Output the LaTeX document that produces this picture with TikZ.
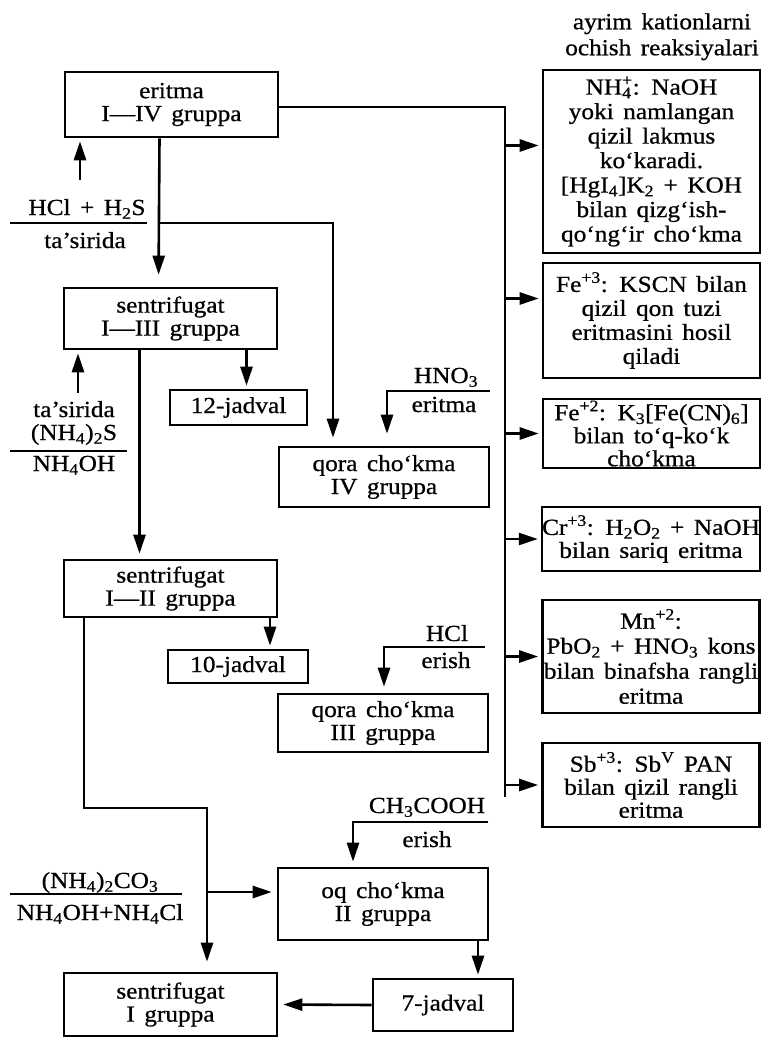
\documentclass[tikz,border=0pt]{standalone}
\usepackage{fontspec}
\setmainfont{Liberation Serif}[FakeStretch=1.1, WordSpace=1.5, FakeBold=0.7]
\usetikzlibrary{arrows.meta,positioning}

\newcommand{\ionpm}[2]{\rlap{\textsubscript{#1}}\textsuperscript{#2}}

\begin{document}
\begin{tikzpicture}[
        x=1pt, y=-1pt,
        >={Triangle[length=19pt,width=12pt]},
        line width=2.6pt,
        every node/.style={font=\fontsize{23}{23}\selectfont, align=center, inner sep=0pt},
        stage/.style={draw, line width=2.6pt},
        main/.style={stage, minimum width=213pt},
        qora/.style={stage, minimum width=210pt},
        jadval/.style={stage, minimum width=140pt},
        reaction/.style={stage, minimum width=217pt},
        flow/.style={->, shorten >=3pt}
    ]
        \fill[white] (0,0) rectangle (766,1038);
        \useasboundingbox (0,0) rectangle (766,1038);

        % left column
        \node[main, minimum height=65pt] (b1) at (171.5,104.5) {eritma\\I—IV gruppa};
        \node[main, minimum height=61pt] (b2) at (170.5,318.5) {sentrifugat\\I—III gruppa};
        \node[jadval, minimum width=137pt, minimum height=35pt] (j12) at (238.5,407.5) {12-jadval};
        \node[qora, minimum height=60pt] (q4) at (384,477) {qora cho‘kma\\IV gruppa};
        \node[main, minimum height=57pt] (b3) at (170.5,588.5) {sentrifugat\\I—II gruppa};
        \node[jadval, minimum height=33pt] (j10) at (238,666.5) {10-jadval};
        \node[qora, minimum height=58pt] (q3) at (383,723) {qora cho‘kma\\III gruppa};
        \node[qora, minimum height=72pt] (oq) at (383,904) {oq cho‘kma\\II gruppa};
        \node[jadval, minimum height=52pt] (j7) at (443,1005) {7-jadval};
        \node[main, minimum height=63pt] (b4) at (170.5,1004.5) {sentrifugat\\I gruppa};

        % right column
        \node[anchor=north, font=\fontsize{23}{26}\selectfont] (ttl) at (662,12) {ayrim kationlarni\\ochish reaksiyalari};
        \node[reaction, minimum height=183pt, font=\fontsize{23}{24.5}\selectfont] (r1) at (651.5,161.5) {NH\ionpm{4}{+}: NaOH\\yoki namlangan\\qizil lakmus\\ko‘karadi.\\{[}HgI\textsubscript{4}{]}K\textsubscript{2} + KOH\\bilan qizg‘ish-\\qo‘ng‘ir cho‘kma};
        \node[reaction, minimum height=115pt, font=\fontsize{23}{24}\selectfont] (r2) at (651.5,320.5) {Fe\textsuperscript{+3}: KSCN bilan\\qizil qon tuzi\\eritmasini hosil\\qiladi};
        \node[reaction, minimum height=69pt] (r3) at (651.5,433.5) {Fe\textsuperscript{+2}: K\textsubscript{3}[Fe(CN)\textsubscript{6}]\\bilan to‘q-ko‘k\\cho‘kma};
        \node[reaction, minimum height=64pt] (r4) at (651,539) {Cr\textsuperscript{+3}: H\textsubscript{2}O\textsubscript{2} + NaOH\\bilan sariq eritma};
        \node[reaction, minimum height=113pt, font=\fontsize{23}{25}\selectfont] (r5) at (651,656.5) {Mn\textsuperscript{+2}:\\PbO\textsubscript{2} + HNO\textsubscript{3} kons\\bilan binafsha rangli\\eritma};
        \node[reaction, minimum height=84pt] (r6) at (651,785) {Sb\textsuperscript{+3}: Sb\textsuperscript{V} PAN\\bilan qizil rangli\\eritma};

        % reagents
        \node[anchor=base] (hs1) at (87,215) {HCl + H\textsubscript{2}S};
        \node[anchor=base] (hs2) at (85,248) {ta’sirida};
        \node[anchor=base] (am1) at (74,417) {ta’sirida};
        \node[anchor=base] (am2) at (74,440) {(NH\textsubscript{4})\textsubscript{2}S};
        \node[anchor=base] (am3) at (74,471) {NH\textsubscript{4}OH};
        \node[anchor=base] (hn1) at (446,383) {HNO\textsubscript{3}};
        \node[anchor=base] (hn2) at (444,412) {eritma};
        \node[anchor=base] (hc1) at (447,641) {HCl};
        \node[anchor=base] (hc2) at (446,668) {erish};
        \node[anchor=base] (ac1) at (427,813) {CH\textsubscript{3}COOH};
        \node[anchor=base] (ac2) at (427,847) {erish};
        \node[anchor=base] (cb1) at (100,888) {(NH\textsubscript{4})\textsubscript{2}CO\textsubscript{3}};
        \node[anchor=base] (cb2) at (100,920) {NH\textsubscript{4}OH+NH\textsubscript{4}Cl};

        \draw (10,223) -- (147,223);
        \draw (10,451) -- (127,451);
        \draw (10,894) -- (182,894);

        % trunk to the reactions
        \coordinate (t0) at (505,107);
        \coordinate (t1) at (505,797);
        \draw (b1.east |- t0) -- (t0) -- (t1);
        \draw[flow] ([yshift=16pt]r1.west -| t0) -- ([yshift=16pt]r1.west);
        \draw[flow] ([yshift=22pt]r2.west -| t0) -- ([yshift=22pt]r2.west);
        \draw[flow] (r3.west -| t0) -- (r3.west);
        \draw[flow] (r4.west -| t0) -- (r4.west);
        \draw[flow] (r5.west -| t0) -- (r5.west);
        \draw[flow] (r6.west -| t0) -- (r6.west);

        % separation scheme
        \coordinate (a1) at (80,180);
        \coordinate (a2) at (78,393);
        \coordinate (c1) at (159.5,223);
        \draw[flow] (a1) -- (a1 |- b1.south);
        \draw[flow, shorten >=12pt] ([xshift=-12pt]b1.south) -- ([xshift=-12pt]b2.north);
        \draw[flow, shorten >=8pt] (c1) -| ([xshift=-51pt]q4.north);
        \draw[flow] (a2) -- (a2 |- b2.south);
        \draw[flow] ([xshift=8pt]j12.north |- b2.south) -- ([xshift=8pt]j12.north);
        \draw[flow, shorten >=5pt] ([xshift=-31pt]b2.south) -- ([xshift=-31pt]b3.north);

        \coordinate (h1) at (490,391);
        \coordinate (h2) at (387,391);
        \draw[flow, shorten >=12pt] (h1) -- (h2) -- (h2 |- q4.north);

        \draw[flow] ([xshift=32pt]j10.north |- b3.south) -- ([xshift=32pt]j10.north);
        \coordinate (e1) at (485,647);
        \coordinate (e2) at (384,647);
        \draw[flow, shorten >=6pt] (e1) -- (e2) -- (e2 |- q3.north);

        \coordinate (k1) at (84,808);
        \coordinate (k2) at (207,808);
        \coordinate (k3) at (207,892);
        \draw[flow, shorten >=10pt] ([xshift=-86.5pt]b3.south) -- (k1) -- (k2) -- (k2 |- b4.north);
        \draw[flow, shorten >=5pt] (k3) -- (k3 -| oq.west);

        \coordinate (g1) at (488,822);
        \coordinate (g2) at (353,822);
        \draw[flow, shorten >=5pt] (g1) -- (g2) -- (g2 |- oq.north);
        \draw[flow] ([xshift=95pt]oq.south) -- ([xshift=35pt]j7.north);
        \draw[flow, shorten >=5pt] (j7.west) -- (b4.east);
    \end{tikzpicture}
\end{document}
